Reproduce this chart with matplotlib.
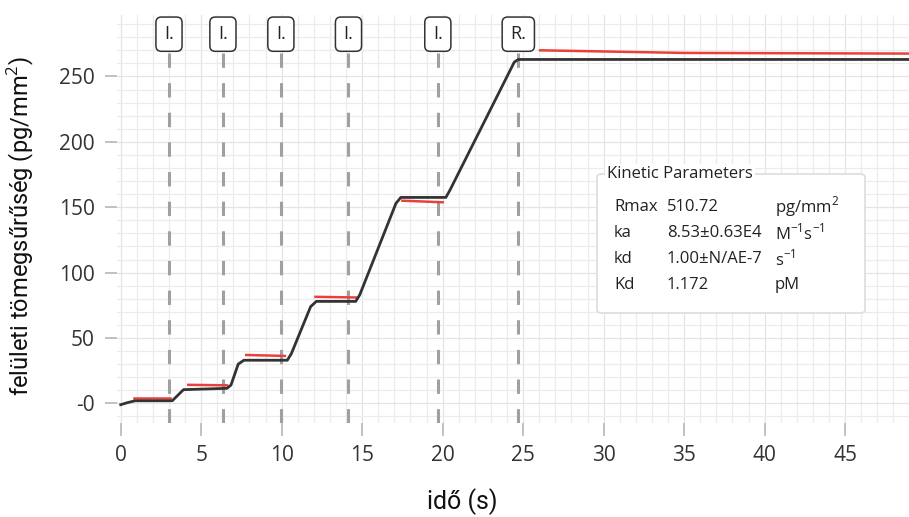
import matplotlib.pyplot as plt
import matplotlib.transforms as mtransforms
from matplotlib.patches import FancyBboxPatch

t_meas = [0, 0.4, 0.9, 3.2, 3.45, 3.9, 6.6, 6.85, 7.3, 7.65, 10.35, 10.6, 11.8, 12.15,
          14.6, 14.85, 17.1, 17.4, 20.2, 20.45, 24.45, 24.7, 49]
y_meas = [-1, 0.5, 2, 2, 5, 10.5, 11.5, 14, 30, 33, 33, 38, 74, 78,
          78, 83, 153, 157.5, 157.5, 163, 261, 263, 263]

# fitted segments (red)
fit_t = [[0.8, 3.05], [4.2, 6.6], [7.8, 10.2], [12.1, 14.6], [17.5, 20.0], [26.05, 35, 49]]
fit_y = [[3.8, 3.8], [14.2, 13.8], [37, 36.3], [81.5, 81], [155, 153.8], [270, 268, 267.5]]

# injection markers
inj_t = [3.0, 6.35, 9.95, 14.15, 19.7, 24.7]
inj_lbl = ["I.", "I.", "I.", "I.", "I.", "R."]

xticks = [0, 5, 10, 15, 20, 25, 30, 35, 40, 45]
yticks = [0, 50, 100, 150, 200, 250]
ytick_lbl = ["-0", "50", "100", "150", "200", "250"]

params = [("Rmax", "510.72", "pg/mm$^{2}$"),
          ("ka", "8.53±0.63E4", "M$^{-1}$s$^{-1}$"),
          ("kd", "1.00±N/AE-7", "s$^{-1}$"),
          ("Kd", "1.172", "pM")]

plt.rcParams["font.family"] = ["Open Sans", "DejaVu Sans"]
plt.rcParams["mathtext.fontset"] = "custom"
plt.rcParams["mathtext.rm"] = "Open Sans"

W, H = 909, 517
fig = plt.figure(figsize=(W / 100, H / 100), dpi=100)
ax = fig.add_axes([117 / W, 1 - 423 / H, 1 - 117 / W, (423 - 15) / H])
ax.set_xlim(-0.23, 48.97)
ax.set_ylim(-15, 297)

# grid
ax.set_xticks(range(0, 49), minor=True)
ax.set_yticks(range(-10, 297, 10), minor=True)
ax.grid(which="minor", color="#ececec", linewidth=0.9)
ax.grid(which="major", color="#e4e4e4", linewidth=0.9)
ax.set_axisbelow(True)
for s in ax.spines.values():
    s.set_visible(False)

ax.set_xticks(xticks)
ax.set_yticks(yticks)
ax.set_yticklabels(ytick_lbl)
ax.tick_params(axis="both", which="major", colors="#b0b0b0", length=9, width=1.1,
               labelcolor="#333333", labelsize=15, pad=7)
ax.tick_params(which="minor", length=0)

ax.set_xlabel("idő (s)", fontsize=18, family="Roboto", color="#111111")
ax.xaxis.set_label_coords((462 - 117) / (W - 117), (423 - 502) / 408, transform=ax.transAxes)
ax.xaxis.label.set_va("center")
ax.set_ylabel("felületi tömegsűrűség (pg/mm$^2$)", fontsize=17, family="Roboto",
              color="#111111")
ax.yaxis.set_label_coords((21 - 117) / (W - 117), (423 - 226) / 408, transform=ax.transAxes)
ax.yaxis.label.set_va("center")

# injection lines + labels
trans = mtransforms.blended_transform_factory(ax.transData, ax.transAxes)
for t, lbl in zip(inj_t, inj_lbl):
    ax.plot([t, t], [0.0, 0.907], transform=trans, color="#a0a0a0", linewidth=2.2,
            dashes=(4.7, 5), zorder=2)
    ax.text(t, 0.953, lbl, transform=trans, ha="center", va="center", fontsize=13,
            color="#222222",
            bbox=dict(boxstyle="round,pad=0.45,rounding_size=0.3", facecolor="white",
                      edgecolor="#333333", linewidth=1.1), zorder=5)

for ft, fy in zip(fit_t, fit_y):
    ax.plot(ft, fy, color="#e8413b", linewidth=1.8, zorder=3)
ax.plot(t_meas, y_meas, color="#333333", linewidth=2, zorder=4)

# kinetic parameters box
x0, y0, x1, y1 = 597 / W, 1 - 313 / H, 865 / W, 1 - 174 / H
fig.patches.append(FancyBboxPatch((x0, y0), x1 - x0, y1 - y0,
                                  boxstyle="round,pad=0,rounding_size=0.006",
                                  transform=fig.transFigure, facecolor="white",
                                  edgecolor="#dddddd", linewidth=1.2, zorder=6))
fig.text(607 / W, 1 - 174 / H, "Kinetic Parameters", fontsize=12, color="#222222",
         va="center", ha="left", zorder=7,
         bbox=dict(facecolor="white", edgecolor="none", pad=1.5))
rows_y = [207, 233, 259, 285]
for (name, val, unit), yy in zip(params, rows_y):
    fy = 1 - yy / H
    fig.text(614 / W, fy, name, fontsize=12, color="#222222", va="center", zorder=7)
    fig.text(667 / W, fy, val, fontsize=12, color="#222222", va="center", zorder=7)
    fig.text(775 / W, fy, unit, fontsize=12, color="#222222", va="center", zorder=7)

fig.savefig("out.png", dpi=100)
